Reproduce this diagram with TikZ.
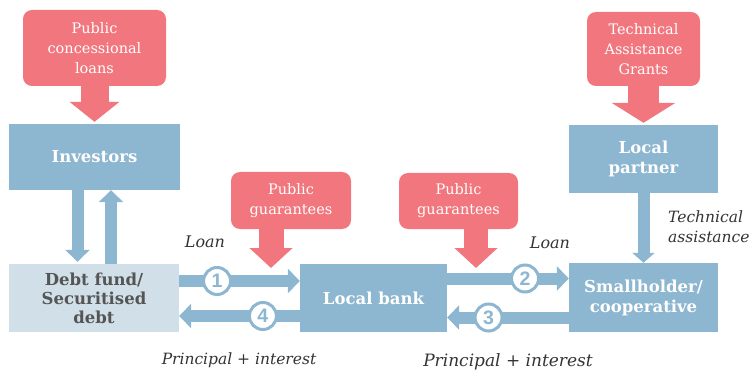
\documentclass[tikz,border=0pt]{standalone}
\usepackage{fontspec}
\setmainfont{DejaVu Serif}
\newfontfamily\numfont{Liberation Sans}
\usetikzlibrary{arrows.meta,calc}
\definecolor{bl}{HTML}{8DB6D1}
\definecolor{pk}{HTML}{F2767D}
\definecolor{lb}{HTML}{D1DFE9}
\definecolor{tx}{HTML}{333333}
\definecolor{dg}{HTML}{555555}
\begin{document}
\begin{tikzpicture}[x=1pt,y=-1pt,
  bbox/.style={fill=bl, text=white, font=\bfseries\fontsize{16.5}{20}\selectfont, align=center, inner sep=0pt},
  dbox/.style={fill=lb, text=dg, font=\bfseries\fontsize{16.5}{19}\selectfont, align=center, inner sep=0pt},
  pbox/.style={fill=pk, text=white, rounded corners=9pt, font=\fontsize{14.5}{20}\selectfont, align=center, inner sep=0pt},
  pkarrow/.style args={#1/#2}{draw=pk, line width=#1, -{Triangle[width=#2,length=20pt]}},
  vbarrow/.style={draw=bl, line width=12pt, -{Triangle[width=24pt,length=12pt]}},
  hbarrow/.style={draw=bl, line width=12pt, -{Triangle[width=24pt,length=12pt]}},
  num/.style={circle, draw=bl, line width=3pt, fill=white, minimum size=27pt, inner sep=0pt, text=bl, font=\numfont\bfseries\fontsize{19.5}{19.5}\selectfont},
  lbl/.style={text=tx, font=\itshape\fontsize{16}{20}\selectfont, inner sep=0pt}
]
\useasboundingbox (0,0) rectangle (749,374);
% boxes
\node[pbox, minimum width=143pt, minimum height=76pt] (pcl) at (94.5,48) {Public\\concessional\\loans};
\node[pbox, minimum width=113pt, minimum height=74pt] (tag) at (643.5,49) {Technical\\Assistance\\Grants};
\node[pbox, minimum width=120pt, minimum height=57pt] (pg1) at (291,200.5) {Public\\guarantees};
\node[pbox, minimum width=119pt, minimum height=56pt] (pg2) at (458.5,201) {Public\\guarantees};
\node[bbox, minimum width=171pt, minimum height=66pt] (inv) at (94.5,157) {Investors};
\node[dbox, minimum width=170pt, minimum height=68pt] (debt) at (94,298) {Debt fund/\\Securitised\\debt};
\node[bbox, minimum width=147pt, minimum height=68pt] (bank) at (373.5,298) {Local bank};
\node[bbox, minimum width=149pt, minimum height=69pt] (small) at (643.5,297.5) {Smallholder/\\cooperative};
\node[bbox, minimum width=149pt, minimum height=68pt] (partner) at (643.5,159) {Local\\partner};
\coordinate (g1) at (271,268);
\coordinate (g2) at (476,268);
% pink arrows
\draw[pkarrow=28pt/49pt, shorten >=2pt] (pcl.south) -- (inv.north);
\draw[pkarrow=31pt/63pt, shorten >=2pt] (tag.south) -- (partner.north);
\draw[pkarrow=25pt/42pt] ([xshift=-20pt]pg1.south) -- (g1);
\draw[pkarrow=24pt/42pt] ([xshift=17.5pt]pg2.south) -- (g2);
% vertical blue arrows
\draw[vbarrow, shorten >=2pt] ([xshift=-17pt]inv.south) -- ([xshift=-16.5pt]debt.north);
\draw[vbarrow] ([xshift=17pt]debt.north) -- ([xshift=16.5pt]inv.south);
\draw[draw=bl, line width=12pt, -{Triangle[width=22pt,length=10pt]}] (partner.south) -- (small.north);
% horizontal arrows
\draw[hbarrow] ([yshift=17pt]debt.east) -- node[num, pos=0.314] (n1) {1} ([yshift=17pt]bank.west);
\draw[hbarrow] ([yshift=-18pt]bank.west) -- node[num, pos=0.306] (n4) {4} ([yshift=-18pt]debt.east);
\draw[hbarrow] ([yshift=19.5pt]bank.east) -- node[num, pos=0.64] (n2) {2} ([yshift=19pt]small.west);
\draw[hbarrow] ([yshift=-20pt]small.west) -- node[num, pos=0.66] (n3) {3} ([yshift=-19.5pt]bank.east);
% labels
\node[lbl] (l1) at (205,242) {Loan};
\node[lbl] (l2) at (550,243) {Loan};
\node[lbl, font=\itshape\fontsize{15.5}{20}\selectfont] (p1) at (239,360) {Principal + interest};
\node[lbl, font=\itshape\fontsize{17}{20}\selectfont] (p2) at (508,362) {Principal + interest};
\node[lbl, align=left, anchor=west, font=\itshape\fontsize{15.5}{20}\selectfont] (ta) at (668,227) {Technical\\assistance};
\end{tikzpicture}
\end{document}
